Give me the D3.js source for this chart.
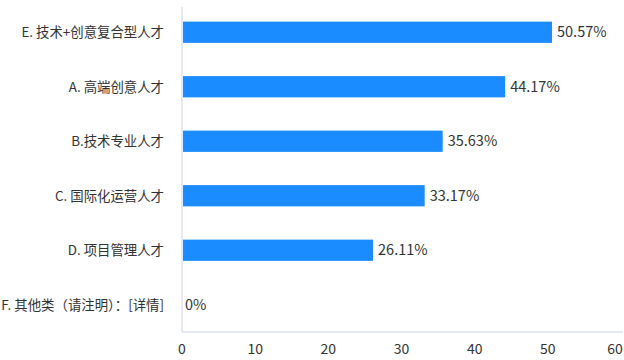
<!DOCTYPE html>
<html><head><meta charset="utf-8">
<script src="https://cdn.jsdelivr.net/npm/d3@7"></script>
<style>body{margin:0;background:#fff;}svg{display:block;font-family:"Noto Sans CJK SC","Noto Sans",sans-serif;}</style>
</head><body><svg id="c" width="624" height="360"></svg>
<script>
const categories = ["E. 技术+创意复合型人才","A. 高端创意人才","B.技术专业人才","C. 国际化运营人才","D. 项目管理人才","F. 其他类（请注明）：[详情]"];
const values = [50.57, 44.17, 35.63, 33.17, 26.11, 0];
const valueLabels = ["50.57%","44.17%","35.63%","33.17%","26.11%","0%"];
const ticks = [0,10,20,30,40,50,60];

const svg = d3.select("#c");
const m = {l:182, r:621, t:5, b:332};
const x = d3.scaleLinear().domain([0,60]).range([m.l, m.r]);
const y = d3.scaleBand().domain(categories).range([m.t, m.b]).paddingInner(0.61).paddingOuter(0.305);

// frame lines
svg.append("line").attr("x1",m.l).attr("x2",m.l).attr("y1",m.t+2).attr("y2",m.b).attr("stroke","#dde3ee").attr("stroke-width",1.5);
svg.append("line").attr("x1",m.l).attr("x2",623).attr("y1",m.b).attr("y2",m.b).attr("stroke","#dde3ee").attr("stroke-width",1.5);

svg.selectAll("rect.bar").data(values).join("rect").attr("class","bar")
  .attr("x", x(0)+1).attr("y",(d,i)=>y(categories[i]))
  .attr("width", d=>Math.max(0, x(d)-x(0)-1)).attr("height", y.bandwidth())
  .attr("fill","#1a8cff");

svg.selectAll("text.val").data(values).join("text").attr("class","val")
  .attr("x", d=>x(d)+(d>0?5:3)).attr("y",(d,i)=>y(categories[i])+y.bandwidth()/2)
  .attr("dy","0.36em").attr("font-size",14.5).attr("fill","#333")
  .text((d,i)=>valueLabels[i]);

svg.selectAll("text.cat").data(categories).join("text").attr("class","cat")
  .attr("x",164).attr("y",d=>y(d)+y.bandwidth()/2).attr("dy","0.36em")
  .attr("text-anchor","end").attr("font-size",13.4).attr("fill","#333").text(d=>d);

svg.selectAll("text.tick").data(ticks).join("text").attr("class","tick")
  .attr("x",(d,i)=> i===ticks.length-1 ? x(d)-6 : x(d)).attr("y",354)
  .attr("text-anchor","middle").attr("font-size",14).attr("fill","#333").text(d=>d);
</script></body></html>
